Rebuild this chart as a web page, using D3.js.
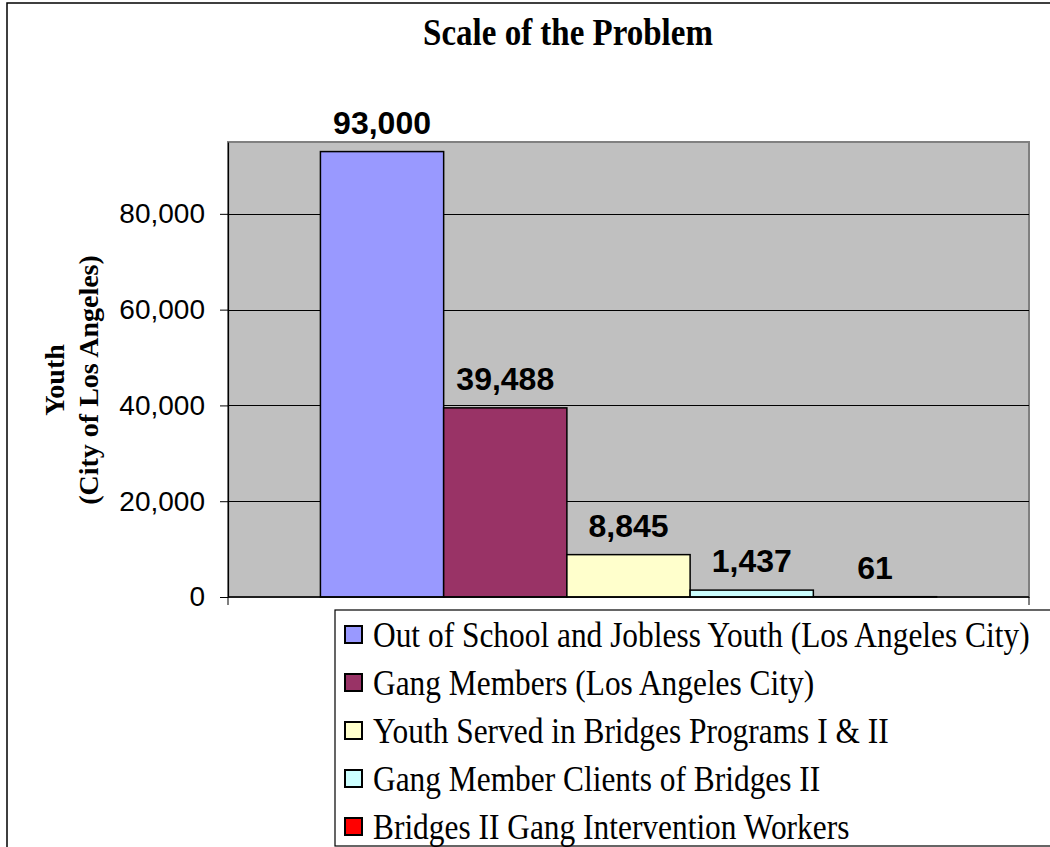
<!DOCTYPE html>
<html>
<head>
<meta charset="utf-8">
<script src="https://cdn.jsdelivr.net/npm/d3@7/dist/d3.min.js"></script>
<style>
html,body{margin:0;padding:0;background:#fff;overflow:hidden;}
svg{display:block;}
</style>
</head>
<body>
<svg id="chart" width="1050" height="847"></svg>
<script>
// ---- data ----
const title = "Scale of the Problem";
const category = ["Youth"];
const seriesNames = [
  "Out of School and Jobless Youth (Los Angeles City)",
  "Gang Members (Los Angeles City)",
  "Youth Served in Bridges Programs I & II",
  "Gang Member Clients of Bridges II",
  "Bridges II Gang Intervention Workers"
];
const seriesValues = [93000, 39488, 8845, 1437, 61];
const seriesColors = ["#9999FF", "#993366", "#FFFFCC", "#CCFFFF", "#FF0000"];
const yTicks = [0, 20000, 40000, 60000, 80000];
const yMax = 95000;
const yTitleLines = ["Youth", "(City of Los Angeles)"];

// ---- layout ----
const svg = d3.select("#chart");
const plot = {left: 228, right: 1029, top: 142, bottom: 597};
const serif = "'Liberation Serif','Times New Roman',serif";
const sans = "'Liberation Sans',Arial,sans-serif";
const fmt = d3.format(",");

// outer chart frame
svg.append("rect").attr("x", 7).attr("y", 3).attr("width", 1100).attr("height", 900)
  .attr("fill", "#fff").attr("stroke", "#000").attr("stroke-width", 1.5);

const y = d3.scaleLinear().domain([0, yMax]).range([plot.bottom, plot.top]);
const x0 = d3.scaleBand().domain(category).range([plot.left, plot.right])
  .paddingInner(0).paddingOuter(0.15);
const x1 = d3.scaleBand().domain(seriesNames).range([0, x0.bandwidth()]).padding(0);

// plot area
svg.append("rect").attr("x", plot.left).attr("y", plot.top)
  .attr("width", plot.right - plot.left).attr("height", plot.bottom - plot.top)
  .attr("fill", "#C0C0C0").attr("stroke", "#808080").attr("stroke-width", 2);

// gridlines
svg.append("g").selectAll("line").data(yTicks.filter(d => d > 0)).join("line")
  .attr("x1", plot.left).attr("x2", plot.right)
  .attr("y1", d => Math.round(y(d)) + 0.5).attr("y2", d => Math.round(y(d)) + 0.5)
  .attr("stroke", "#000").attr("stroke-width", 1);

// y axis
const yAxis = d3.axisLeft(y).tickValues(yTicks).tickFormat(fmt).tickSizeInner(8).tickSizeOuter(0).tickPadding(15);
const gy = svg.append("g").attr("transform", `translate(${plot.left},0)`).call(yAxis);
gy.select(".domain").attr("stroke", "#000").attr("stroke-width", 1.2);
gy.selectAll(".tick line").attr("stroke", "#000");
gy.selectAll(".tick text").attr("font-family", sans).attr("font-size", 28).attr("fill", "#000");

// bars
const g = svg.append("g").attr("transform", `translate(${x0(category[0])},0)`);
g.selectAll("rect").data(seriesNames).join("rect")
  .attr("x", d => x1(d)).attr("width", x1.bandwidth())
  .attr("y", (d, i) => y(seriesValues[i]))
  .attr("height", (d, i) => y(0) - y(seriesValues[i]))
  .attr("fill", (d, i) => seriesColors[i])
  .attr("stroke", "#000").attr("stroke-width", 1.5);

// data labels
g.selectAll("text").data(seriesNames).join("text")
  .attr("x", d => x1(d) + x1.bandwidth() / 2)
  .attr("y", (d, i) => y(seriesValues[i]) - 18)
  .attr("text-anchor", "middle")
  .attr("font-family", sans).attr("font-weight", "bold").attr("font-size", 32)
  .text((d, i) => fmt(seriesValues[i]));

// x axis line + end ticks
svg.append("line").attr("x1", plot.left).attr("x2", plot.right)
  .attr("y1", plot.bottom).attr("y2", plot.bottom).attr("stroke", "#000").attr("stroke-width", 1.5);
svg.append("g").selectAll("line").data([plot.left, plot.right]).join("line")
  .attr("x1", d => d).attr("x2", d => d).attr("y1", plot.bottom).attr("y2", plot.bottom + 8)
  .attr("stroke", "#000");

// title
svg.append("text").attr("transform", "translate(568,45) scale(1,1.15)").attr("text-anchor", "middle")
  .attr("font-family", serif).attr("font-weight", "bold").attr("font-size", 33)
  .text(title);

// y axis title
yTitleLines.forEach((t, i) => {
  svg.append("text")
    .attr("transform", `translate(${64 + i * 34},380) rotate(-90)`)
    .attr("text-anchor", "middle")
    .attr("font-family", serif).attr("font-weight", "bold").attr("font-size", 28)
    .text(t);
});

// legend
const leg = svg.append("g");
leg.append("rect").attr("x", 335).attr("y", 610).attr("width", 800).attr("height", 236)
  .attr("fill", "#fff").attr("stroke", "#000").attr("stroke-width", 1.2);
const rows = leg.selectAll("g.row").data(seriesNames).join("g")
  .attr("transform", (d, i) => `translate(0,${635 + i * 48})`);
rows.append("rect").attr("x", 345).attr("y", -9).attr("width", 17).attr("height", 17)
  .attr("fill", (d, i) => seriesColors[i]).attr("stroke", "#000").attr("stroke-width", 2);
rows.append("text").attr("transform", "translate(373,12) scale(1,1.12)")
  .attr("font-family", serif).attr("font-size", 31.4).text(d => d);
</script>
</body>
</html>
